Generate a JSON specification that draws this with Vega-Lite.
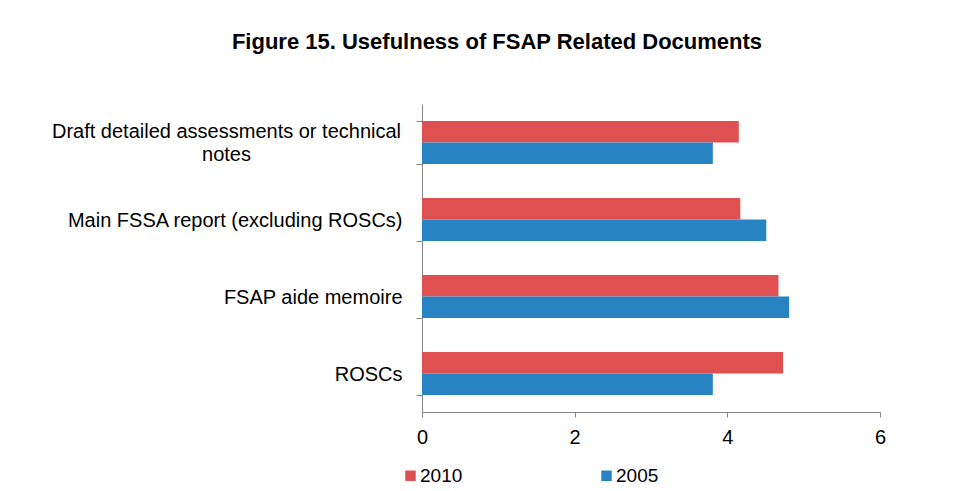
{
  "$schema": "https://vega.github.io/schema/vega-lite/v6.json",
  "width": 458,
  "height": 308,
  "autosize": {"type": "none"},
  "padding": {"left": 422, "top": 104, "right": 91, "bottom": 79},
  "background": "white",
  "title": {
    "text": "Figure 15. Usefulness of FSAP Related Documents",
    "font": "Liberation Sans",
    "fontSize": 22,
    "fontWeight": "bold",
    "color": "black",
    "anchor": "middle",
    "dx": -154,
    "offset": 40
  },
  "data": {
    "values": [
      {"doc": "Draft detailed assessments or technical notes", "year": "2010", "value": 4.15},
      {"doc": "Draft detailed assessments or technical notes", "year": "2005", "value": 3.81},
      {"doc": "Main FSSA report (excluding ROSCs)", "year": "2010", "value": 4.17},
      {"doc": "Main FSSA report (excluding ROSCs)", "year": "2005", "value": 4.51},
      {"doc": "FSAP aide memoire", "year": "2010", "value": 4.67},
      {"doc": "FSAP aide memoire", "year": "2005", "value": 4.81},
      {"doc": "ROSCs", "year": "2010", "value": 4.73},
      {"doc": "ROSCs", "year": "2005", "value": 3.81}
    ]
  },
  "mark": {"type": "bar"},
  "encoding": {
    "y": {
      "field": "doc",
      "type": "nominal",
      "sort": ["Draft detailed assessments or technical notes", "Main FSSA report (excluding ROSCs)", "FSAP aide memoire", "ROSCs"],
      "scale": {"paddingInner": 0.44, "paddingOuter": 0.22},
      "axis": {
        "title": null,
        "tickBand": "extent",
        "labelFont": "Liberation Sans",
        "labelFontSize": 20,
        "labelColor": "black",
        "labelLimit": 0,
        "labelLineHeight": 23,
        "labelExpr": "datum.value == 'Draft detailed assessments or technical notes' ? ['Draft detailed assessments or technical', 'notes'] : datum.value",
        "labelAlign": {"condition": {"test": "datum.value == 'Draft detailed assessments or technical notes'", "value": "center"}, "value": "right"},
        "labelPadding": {"condition": {"test": "datum.value == 'Draft detailed assessments or technical notes'", "value": 190}, "value": 14},
        "labelOffset": {"condition": {"test": "datum.value == 'Draft detailed assessments or technical notes'", "value": -11}, "value": 1},
        "domainColor": "#868686",
        "tickColor": "#868686",
        "tickSize": 6
      }
    },
    "yOffset": {"field": "year", "type": "nominal", "sort": ["2010", "2005"]},
    "x": {
      "field": "value",
      "type": "quantitative",
      "scale": {"domain": [0, 6]},
      "axis": {
        "title": null,
        "grid": false,
        "values": [0, 2, 4, 6],
        "labelFlush": false,
        "labelFont": "Liberation Sans",
        "labelFontSize": 20,
        "labelColor": "black",
        "labelPadding": 10,
        "domainColor": "#868686",
        "tickColor": "#868686",
        "tickSize": 5
      }
    },
    "color": {
      "field": "year",
      "type": "nominal",
      "scale": {"domain": ["2010", "2005"], "range": ["#DF5150", "#2783C1"]},
      "legend": {
        "title": null,
        "orient": "none",
        "legendX": -21,
        "legendY": 362,
        "direction": "horizontal",
        "symbolType": "square",
        "symbolSize": 110,
        "symbolStrokeWidth": 0,
        "labelFont": "Liberation Sans",
        "labelFontSize": 19,
        "labelColor": "black",
        "labelOffset": 0,
        "columnPadding": 134
      }
    }
  },
  "config": {"view": {"stroke": null}}
}
